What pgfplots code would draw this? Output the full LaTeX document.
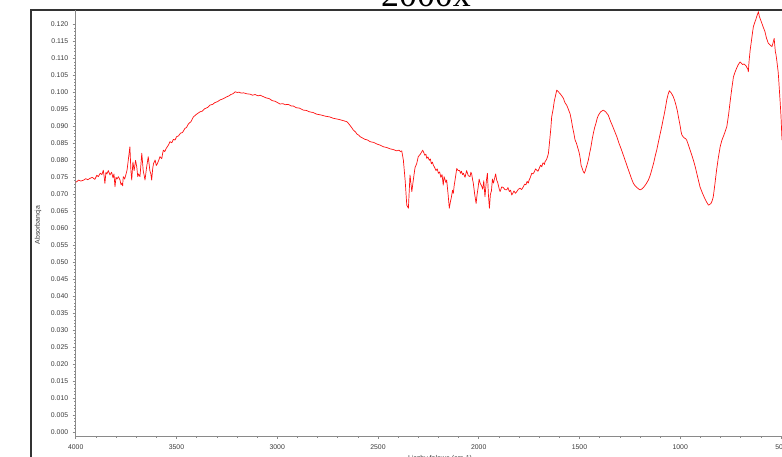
\documentclass[border=0pt]{standalone}
\usepackage{pgfplots}
\pgfplotsset{compat=1.18}
\usepackage{fontspec}
\setmainfont{Liberation Sans}
\newfontfamily\titlefont{Liberation Serif}
\definecolor{framegray}{HTML}{333333}
\definecolor{axgray}{HTML}{8A8A8A}
\definecolor{lblgray}{HTML}{3A3A3A}
\definecolor{specred}{HTML}{FF1010}

\pgfplotstableread{
w A
4000 0.0736
3995 0.0737
3985 0.0742
3975 0.0739
3960 0.0742
3950 0.0746
3940 0.0743
3929 0.0747
3918 0.0750
3905 0.0744
3895 0.0756
3888 0.0752
3878 0.0762
3870 0.0758
3863 0.0771
3858 0.0748
3855 0.0732
3850 0.0765
3845 0.0760
3838 0.0770
3830 0.0757
3822 0.0765
3815 0.0749
3810 0.0760
3805 0.0722
3800 0.0750
3795 0.0745
3788 0.0752
3780 0.0742
3775 0.0728
3770 0.0733
3767 0.0725
3764 0.0752
3757 0.0745
3750 0.0760
3745 0.0772
3739 0.0801
3731 0.0840
3726 0.0770
3722 0.0742
3716 0.0795
3710 0.0770
3703 0.0800
3697 0.0781
3692 0.0752
3688 0.0760
3681 0.0752
3676 0.0790
3672 0.0821
3665 0.0770
3660 0.0755
3656 0.0742
3648 0.0780
3640 0.0811
3632 0.0770
3627 0.0760
3623 0.0742
3618 0.0775
3614 0.0790
3606 0.0801
3600 0.0785
3595 0.0790
3588 0.0800
3582 0.0811
3573 0.0805
3568 0.0822
3565 0.0830
3558 0.0826
3550 0.0836
3540 0.0845
3532 0.0855
3523 0.0852
3515 0.0862
3507 0.0860
3499 0.0870
3490 0.0872
3480 0.0880
3470 0.0882
3458 0.0894
3450 0.0897
3440 0.0908
3428 0.0914
3416 0.0928
3400 0.0936
3383 0.0943
3372 0.0945
3360 0.0952
3345 0.0956
3333 0.0963
3320 0.0965
3310 0.0970
3296 0.0973
3284 0.0978
3270 0.0981
3251 0.0987
3240 0.0990
3230 0.0994
3220 0.0996
3209 0.1002
3198 0.1000
3190 0.1001
3178 0.0998
3168 0.0999
3150 0.0996
3135 0.0995
3122 0.0992
3110 0.0994
3095 0.0990
3085 0.0992
3070 0.0988
3055 0.0984
3040 0.0982
3025 0.0976
3010 0.0974
2998 0.0970
2986 0.0966
2972 0.0967
2960 0.0964
2945 0.0965
2930 0.0960
2920 0.0960
2905 0.0955
2890 0.0954
2870 0.0948
2855 0.0947
2840 0.0943
2822 0.0941
2804 0.0936
2785 0.0934
2760 0.0930
2740 0.0928
2722 0.0924
2705 0.0922
2690 0.0920
2672 0.0917
2655 0.0914
2648 0.0910
2640 0.0904
2630 0.0896
2622 0.0889
2612 0.0884
2605 0.0878
2595 0.0874
2589 0.0870
2577 0.0866
2565 0.0862
2552 0.0860
2539 0.0855
2522 0.0853
2505 0.0848
2490 0.0845
2473 0.0840
2457 0.0838
2440 0.0834
2425 0.0832
2407 0.0828
2395 0.0830
2388 0.0826
2382 0.0828
2374 0.0801
2365 0.0740
2357 0.0668
2349 0.0659
2341 0.0757
2336 0.0730
2332 0.0708
2324 0.0745
2316 0.0779
2308 0.0790
2300 0.0811
2290 0.0818
2278 0.0830
2272 0.0822
2268 0.0815
2262 0.0818
2258 0.0806
2252 0.0810
2245 0.0800
2240 0.0804
2235 0.0790
2230 0.0795
2225 0.0786
2218 0.0778
2212 0.0770
2206 0.0775
2200 0.0762
2194 0.0766
2188 0.0750
2182 0.0758
2176 0.0727
2172 0.0752
2168 0.0745
2163 0.0735
2159 0.0742
2152 0.0700
2146 0.0659
2140 0.0680
2136 0.0690
2130 0.0712
2126 0.0703
2122 0.0725
2118 0.0740
2113 0.0760
2109 0.0776
2102 0.0770
2095 0.0770
2090 0.0762
2086 0.0768
2080 0.0758
2076 0.0762
2068 0.0750
2060 0.0770
2052 0.0755
2043 0.0752
2039 0.0765
2035 0.0760
2031 0.0745
2027 0.0733
2020 0.0700
2013 0.0673
2008 0.0700
2003 0.0720
1998 0.0745
1993 0.0733
1986 0.0725
1980 0.0715
1975 0.0740
1969 0.0693
1962 0.0740
1957 0.0762
1952 0.0700
1947 0.0659
1942 0.0700
1937 0.0710
1932 0.0745
1927 0.0733
1920 0.0750
1916 0.0760
1911 0.0742
1906 0.0735
1902 0.0725
1898 0.0715
1894 0.0708
1886 0.0722
1878 0.0720
1870 0.0714
1861 0.0713
1855 0.0720
1848 0.0708
1842 0.0712
1836 0.0698
1830 0.0704
1825 0.0710
1818 0.0703
1811 0.0708
1803 0.0715
1795 0.0718
1787 0.0714
1779 0.0722
1772 0.0730
1766 0.0728
1760 0.0738
1754 0.0733
1750 0.0742
1745 0.0748
1741 0.0755
1737 0.0762
1731 0.0760
1725 0.0765
1718 0.0775
1712 0.0771
1706 0.0768
1700 0.0776
1693 0.0786
1687 0.0781
1682 0.0792
1678 0.0792
1674 0.0788
1671 0.0796
1666 0.0800
1662 0.0805
1658 0.0812
1654 0.0821
1650 0.0845
1646 0.0870
1642 0.0895
1638 0.0928
1631 0.0950
1625 0.0975
1619 0.0990
1613 0.1007
1605 0.1002
1597 0.0997
1588 0.0990
1580 0.0983
1572 0.0970
1563 0.0962
1555 0.0950
1547 0.0938
1540 0.0918
1535 0.0900
1528 0.0880
1522 0.0860
1516 0.0852
1510 0.0840
1505 0.0830
1501 0.0821
1497 0.0808
1495 0.0800
1492 0.0785
1489 0.0781
1482 0.0768
1476 0.0762
1471 0.0770
1466 0.0780
1461 0.0790
1456 0.0801
1450 0.0820
1443 0.0840
1437 0.0862
1431 0.0880
1425 0.0896
1418 0.0910
1412 0.0924
1406 0.0933
1395 0.0943
1382 0.0948
1370 0.0943
1357 0.0933
1346 0.0915
1335 0.0900
1325 0.0885
1315 0.0870
1305 0.0852
1294 0.0835
1284 0.0818
1274 0.0801
1263 0.0782
1253 0.0765
1243 0.0748
1233 0.0733
1224 0.0725
1215 0.0720
1207 0.0716
1199 0.0713
1190 0.0716
1180 0.0722
1170 0.0730
1158 0.0742
1148 0.0758
1140 0.0775
1132 0.0792
1125 0.0811
1116 0.0832
1108 0.0855
1100 0.0877
1092 0.0899
1085 0.0920
1078 0.0940
1072 0.0960
1067 0.0978
1060 0.0995
1054 0.1005
1044 0.0998
1034 0.0987
1027 0.0975
1020 0.0960
1014 0.0945
1009 0.0928
1004 0.0913
1000 0.0900
996 0.0885
992 0.0875
986 0.0870
980 0.0866
974 0.0864
968 0.0860
960 0.0846
952 0.0832
944 0.0818
935 0.0801
926 0.0782
918 0.0762
910 0.0742
902 0.0722
891 0.0705
880 0.0690
870 0.0678
860 0.0668
854 0.0670
848 0.0673
842 0.0680
836 0.0693
828 0.0730
820 0.0770
811 0.0808
802 0.0840
794 0.0858
785 0.0872
777 0.0885
769 0.0899
760 0.0935
752 0.0975
744 0.1012
736 0.1046
728 0.1060
720 0.1072
712 0.1082
703 0.1090
696 0.1086
690 0.1082
684 0.1084
678 0.1081
673 0.1078
668 0.1072
664 0.1068
662 0.1061
660 0.1080
658 0.1095
653 0.1125
649 0.1142
645 0.1160
641 0.1178
637 0.1194
631 0.1205
625 0.1215
618 0.1228
612 0.1238
608 0.1225
604 0.1218
600 0.1212
595 0.1204
588 0.1192
580 0.1180
572 0.1160
563 0.1145
554 0.1140
545 0.1135
540 0.1145
534 0.1159
531 0.1140
528 0.1120
525 0.1112
521 0.1095
518 0.1080
514 0.1060
511 0.1035
508 0.1007
504 0.0970
500 0.0930
495 0.0860
}\spectrum

\begin{document}
\begin{tikzpicture}[x=1bp,y=1bp]
\fill[white] (0,0) rectangle (782,457);
\draw[line width=1.4bp, framegray] (31,-20) -- (31,447) -- (820,447);
\node[font=\titlefont\fontsize{36}{36}\selectfont, anchor=base, inner sep=0pt] at (426,450) {2000x};
\begin{axis}[
  at={(75.7bp,21bp)}, anchor=south west,
  scale only axis, width=706.3bp, height=426bp,
  xmin=495, xmax=4000, x dir=reverse,
  ymin=-0.0012, ymax=0.1243,
  axis x line=bottom, axis y line=left,
  axis line style={axgray, line width=0.7bp, -},
  xtick={500,1000,...,4000},
  ytick={0,0.005,...,0.1205},
  minor x tick num=4, minor y tick num=4,
  tick align=outside,
  major tick length=3bp, minor tick length=1.6bp,
  every tick/.style={axgray, line width=0.5bp},
  tick label style={font=\fontsize{6.9}{7}\selectfont, text=lblgray},
  /pgf/number format/assume math mode=true,
  yticklabel style={/pgf/number format/.cd, fixed, fixed zerofill, precision=3, /tikz/.cd, xshift=-1bp},
  xticklabel style={/pgf/number format/.cd, fixed, 1000 sep={}, /tikz/.cd, yshift=-2bp},
  scaled y ticks=false,
  clip=true,
]
\addplot[specred, line width=0.7bp, line join=round] table[x=w, y=A] {\spectrum};
\end{axis}
\node[rotate=90, font=\fontsize{7}{7}\selectfont, text=lblgray] at (38,232) {Absorbancja};
\node[anchor=north, font=\fontsize{7}{7}\selectfont, text=lblgray] at (440,5) {Liczby falowe (cm-1)};
\pgfresetboundingbox
\useasboundingbox (0,0) rectangle (782,457);
\end{tikzpicture}
\end{document}
